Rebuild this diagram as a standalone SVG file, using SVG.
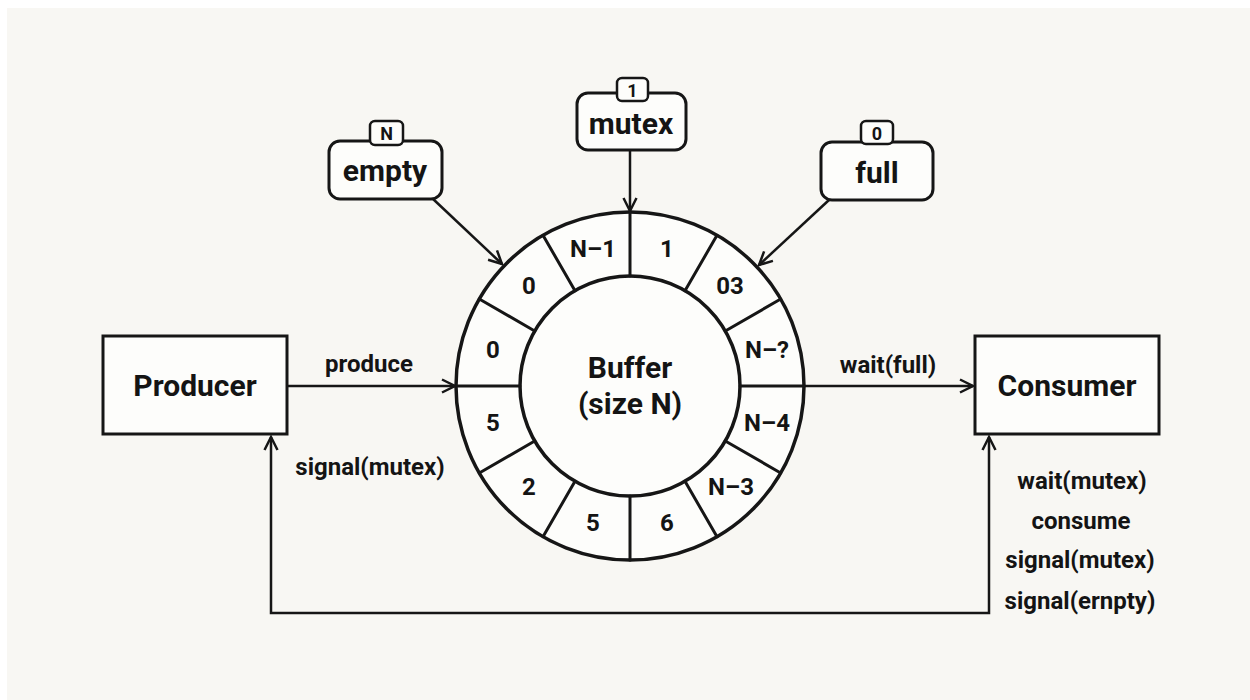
<svg xmlns="http://www.w3.org/2000/svg" width="1250" height="700" viewBox="0 0 1250 700">
  <style>
    .box { fill: #fdfdfb; stroke: #161616; stroke-width: 3; }
    .badge { fill: #fdfdfb; stroke: #161616; stroke-width: 2.5; }
    .ring { fill: #fdfdfb; stroke: #161616; stroke-width: 3.5; }
    .div { stroke: #161616; stroke-width: 3; stroke-linecap: round; }
    .wire { fill: none; stroke: #161616; stroke-width: 2.5; }
    text { font-family: Roboto, "Liberation Sans", sans-serif; fill: #141414; text-anchor: middle; }
    .title { font-size: 30px; font-weight: 700; }
    .sem { font-size: 30px; font-weight: 700; }
    .val { font-size: 18px; font-weight: 700; }
    .cell { font-size: 24px; font-weight: 700; }
    .lbl { font-size: 24px; font-weight: 700; }
  </style>
  <defs>
    <marker id="arrow" markerUnits="userSpaceOnUse" markerWidth="20" markerHeight="20" refX="14" refY="8" orient="auto-start-reverse">
      <path d="M1,1.5 L14,8 L1,14.5" fill="none" stroke="#161616" stroke-width="2.5" stroke-linejoin="miter"/>
    </marker>
  </defs>

  <!-- paper -->
  <rect width="1250" height="700" fill="#ffffff"/>
  <rect x="7" y="8" width="1243" height="692" fill="#f8f7f3"/>

  <!-- connectors -->
  <g id="connectors">
    <line class="wire" x1="432" y1="198" x2="502" y2="264" marker-end="url(#arrow)"/>
    <line class="wire" x1="829" y1="200" x2="759" y2="265" marker-end="url(#arrow)"/>
    <line class="wire" x1="630" y1="150" x2="630" y2="211" marker-end="url(#arrow)"/>
    <line class="wire" x1="287" y1="386" x2="455" y2="386" marker-end="url(#arrow)"/>
    <line class="wire" x1="804" y1="386" x2="973" y2="386" marker-end="url(#arrow)"/>
    <path class="wire" d="M271,437 L271,613 L989,613 L989,437" marker-start="url(#arrow)" marker-end="url(#arrow)"/>
    <text class="lbl" x="369" y="372">produce</text>
    <text class="lbl" x="888" y="373">wait(full)</text>
    <text class="lbl" x="370" y="475">signal(mutex)</text>
    <text class="lbl" x="1082" y="489">wait(mutex)</text>
    <text class="lbl" x="1081" y="529">consume</text>
    <text class="lbl" x="1080" y="568">signal(mutex)</text>
    <text class="lbl" x="1080" y="609">signal(ernpty)</text>
  </g>

  <!-- circular buffer -->
  <g id="buffer">
    <circle class="ring" cx="630" cy="386" r="174"/>
    <circle class="ring" cx="630" cy="386" r="110"/>
    <line class="div" x1="740" y1="386" x2="804" y2="386"/>
    <line class="div" x1="725.3" y1="331" x2="780.7" y2="299"/>
    <line class="div" x1="685" y1="290.7" x2="717" y2="235.3"/>
    <line class="div" x1="630" y1="276" x2="630" y2="212"/>
    <line class="div" x1="575" y1="290.7" x2="543" y2="235.3"/>
    <line class="div" x1="534.7" y1="331" x2="479.3" y2="299"/>
    <line class="div" x1="520" y1="386" x2="456" y2="386"/>
    <line class="div" x1="534.7" y1="441" x2="479.3" y2="473"/>
    <line class="div" x1="575" y1="481.3" x2="543" y2="536.7"/>
    <line class="div" x1="630" y1="496" x2="630" y2="560"/>
    <line class="div" x1="685" y1="481.3" x2="717" y2="536.7"/>
    <line class="div" x1="725.3" y1="441" x2="780.7" y2="473"/>
    <text class="cell" x="767" y="358">N–?</text>
    <text class="cell" x="730" y="294">03</text>
    <text class="cell" x="667" y="257">1</text>
    <text class="cell" x="593" y="257">N–1</text>
    <text class="cell" x="529" y="294">0</text>
    <text class="cell" x="493" y="358">0</text>
    <text class="cell" x="493" y="431">5</text>
    <text class="cell" x="529" y="495">2</text>
    <text class="cell" x="593" y="531">5</text>
    <text class="cell" x="667" y="531">6</text>
    <text class="cell" x="731" y="495">N–3</text>
    <text class="cell" x="767" y="431">N–4</text>
    <text class="title" x="630" y="378">Buffer</text>
    <text class="title" x="630" y="414">(size N)</text>
  </g>

  <g id="producer">
    <rect class="box" x="103" y="336" width="184" height="98"/>
    <text class="title" x="195" y="396">Producer</text>
  </g>

  <g id="consumer">
    <rect class="box" x="975" y="336" width="184" height="98"/>
    <text class="title" x="1067" y="396">Consumer</text>
  </g>

  <g id="empty">
    <rect class="box" x="329" y="141" width="113" height="58" rx="11"/>
    <rect class="badge" x="370" y="121" width="33" height="24" rx="5"/>
    <text class="val" x="386.5" y="139.5">N</text>
    <text class="sem" x="385" y="181">empty</text>
  </g>

  <g id="mutex">
    <rect class="box" x="577" y="93" width="109" height="57" rx="11"/>
    <rect class="badge" x="617" y="78" width="31" height="23" rx="5"/>
    <text class="val" x="632.5" y="96.5">1</text>
    <text class="sem" x="631" y="134">mutex</text>
  </g>

  <g id="full">
    <rect class="box" x="821" y="142" width="112" height="58" rx="11"/>
    <rect class="badge" x="861" y="121" width="32" height="23" rx="5"/>
    <text class="val" x="877" y="139.5">0</text>
    <text class="sem" x="877" y="183">full</text>
  </g>
</svg>
